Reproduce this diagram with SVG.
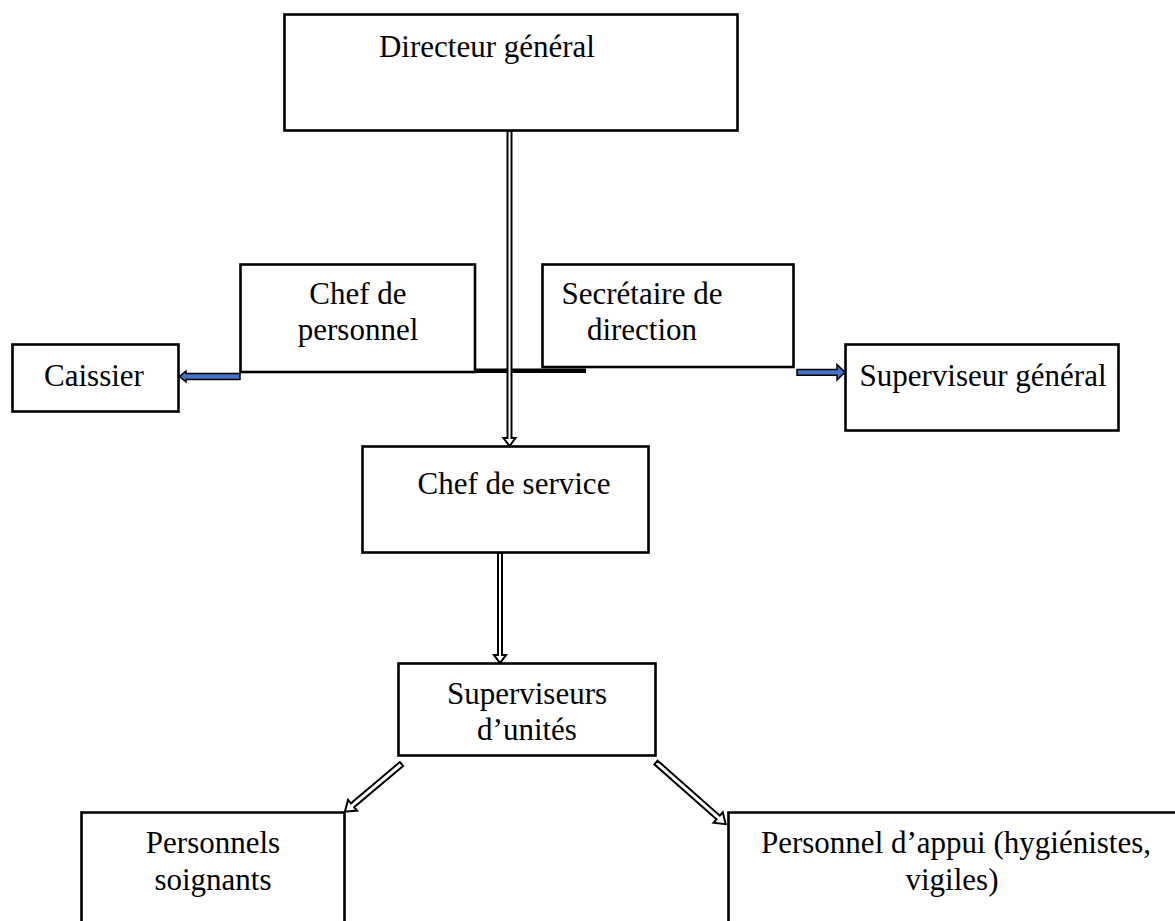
<svg xmlns="http://www.w3.org/2000/svg" width="1175" height="921" viewBox="0 0 1175 921">
<style>
.box{fill:#fff;stroke:#000;stroke-width:2.6}
.t{font-family:"Liberation Serif","Times New Roman",serif;font-size:31px;fill:#000;text-anchor:middle}
.dbl{fill:#fff;stroke:#000;stroke-width:2}
.blue{fill:#4472c4;stroke:#000;stroke-width:1.5}
</style>
<rect width="1175" height="921" fill="#fff"/>
<g id="connectors">
  <!-- bar under chef de personnel -->
  <line x1="473" y1="370.7" x2="586" y2="370.7" stroke="#000" stroke-width="4.5"/>
  <!-- director to chef de service -->
  <polygon class="dbl" points="507.5,131 511.5,131 511.5,438 515.5,438 509.5,446 503.5,438 507.5,438"/>
  <!-- chef de service to superviseurs -->
  <polygon class="dbl" points="498,553 502,553 502,655 506,655 500,663 494,655 498,655"/>
  <!-- to caissier -->
  <polygon class="blue" points="240,373.5 186,373.5 186,371 179.5,376.5 186,382 186,379.5 240,379.5"/>
  <!-- to superviseur general -->
  <polygon class="blue" points="797,369.5 837,369.5 837,364.5 845,372.3 837,380 837,375.3 797,375.3"/>
  <!-- to personnels soignants -->
  <polygon class="dbl" transform="translate(401.5,764) rotate(139.9)" points="0,-2.5 64,-2.5 64,-7 74,0 64,7 64,2.5 0,2.5"/>
  <!-- to personnel d'appui -->
  <polygon class="dbl" transform="translate(656,762.5) rotate(41.5)" points="0,-2.5 83,-2.5 83,-7 93,0 83,7 83,2.5 0,2.5"/>
</g>
<g id="directeur">
  <rect class="box" x="284.5" y="14.5" width="453" height="116"/>
  <text class="t" x="487" y="57">Directeur général</text>
</g>
<g id="chef-personnel">
  <rect class="box" x="240.5" y="264.5" width="234.5" height="107.5"/>
  <text class="t" x="358" y="304">Chef de</text>
  <text class="t" x="358" y="340">personnel</text>
</g>
<g id="secretaire">
  <rect class="box" x="542.5" y="264.5" width="251" height="102.5"/>
  <text class="t" x="642" y="304">Secrétaire de</text>
  <text class="t" x="642" y="340">direction</text>
</g>
<g id="caissier">
  <rect class="box" x="12.5" y="344.5" width="166" height="67"/>
  <text class="t" x="94" y="386">Caissier</text>
</g>
<g id="superviseur-general">
  <rect class="box" x="845.5" y="344.5" width="273" height="86"/>
  <text class="t" x="983" y="386">Superviseur général</text>
</g>
<g id="chef-service">
  <rect class="box" x="362.5" y="446.5" width="286" height="106"/>
  <text class="t" x="514" y="494">Chef de service</text>
</g>
<g id="superviseurs-unites">
  <rect class="box" x="398.5" y="663.5" width="257" height="92"/>
  <text class="t" x="527" y="704">Superviseurs</text>
  <text class="t" x="527" y="740">d’unités</text>
</g>
<g id="personnels-soignants">
  <path class="box" d="M81.5,921 V812.5 H344.5 V921"/>
  <text class="t" x="213" y="853">Personnels</text>
  <text class="t" x="213" y="890">soignants</text>
</g>
<g id="personnel-appui">
  <path class="box" d="M728.5,921 V812.5 H1175"/>
  <text class="t" x="956" y="853">Personnel d’appui (hygiénistes,</text>
  <text class="t" x="952" y="890">vigiles)</text>
</g>
</svg>
